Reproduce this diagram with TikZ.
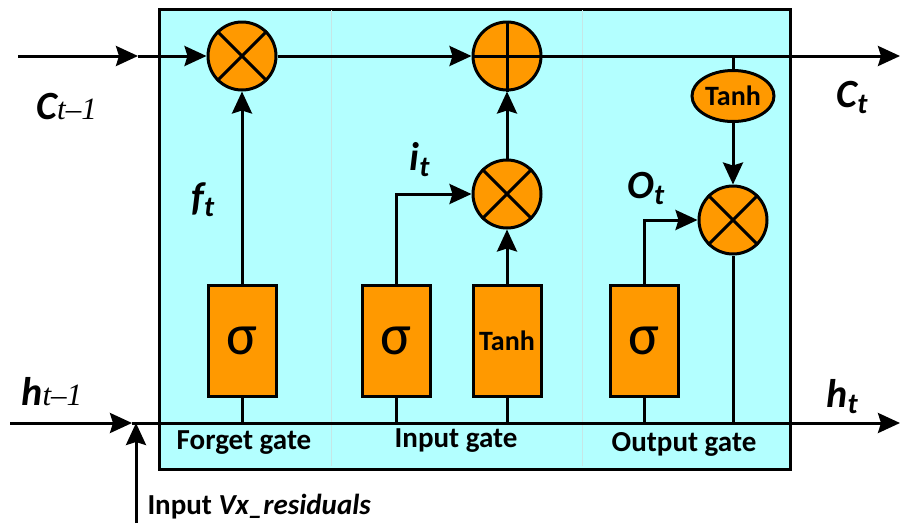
\documentclass[tikz,border=0pt]{standalone}
\usepackage{fontspec}
\setmainfont{Carlito}
\newfontfamily\serifit{Liberation Serif}
\usetikzlibrary{arrows.meta,shapes.geometric}
\definecolor{boxcyan}{HTML}{B3FFFF}
\definecolor{gateorange}{HTML}{FF9900}
\definecolor{divline}{HTML}{C6E6E6}
\tikzset{
  every picture/.style={line width=3pt},
  arr/.style={-{Stealth[length=22pt,width=20pt,inset=3pt]}},
  op/.style={circle,draw,fill=gateorange,minimum size=68pt,inner sep=0pt},
  gatebox/.style={rectangle,draw,fill=gateorange,minimum width=68pt,minimum height=111pt,inner sep=0pt},
  biglbl/.style={font=\fontsize{40}{42}\selectfont\bfseries\itshape,inner sep=0pt},
  gatelbl/.style={font=\fontsize{29}{32}\selectfont\bfseries,inner sep=0pt},
}
\newcommand{\subsc}[1]{{\fontsize{29}{30}\selectfont #1}}
\newcommand{\tmone}{{\fontsize{31}{32}\selectfont\serifit\itshape\mdseries t–1}}
\begin{document}
\begin{tikzpicture}[x=1pt,y=-1pt]
\useasboundingbox (0,0) rectangle (902,523);
% main cell
\node[draw,line width=3pt,fill=boxcyan,minimum width=631pt,minimum height=460pt,inner sep=0pt,anchor=north west] (cell) at (158,8) {};
\draw[divline,line width=1pt] (331,10) -- (331,466) (582,10) -- (582,466);
% coordinates
\coordinate (cin) at (18,56);
\coordinate (cmid) at (138,56);
\coordinate (cout) at (900,56);
\coordinate (hin) at (10,423);
\coordinate (hmid) at (132,423);
\coordinate (hout) at (900,423);
\coordinate (vin) at (136,523);
\coordinate (vtop) at (136,423);
% operators
\node[op] (fx) at (242,56) {};
\node[op] (plus) at (507,56) {};
\node[op] (ix) at (507,194) {};
\node[op] (ox) at (733,220) {};
\draw (fx.45) -- (fx.225) (fx.135) -- (fx.-45);
\draw (ix.45) -- (ix.225) (ix.135) -- (ix.-45);
\draw (ox.45) -- (ox.225) (ox.135) -- (ox.-45);
\draw (plus.north) -- (plus.south) (plus.west) -- (plus.east);
\node[ellipse,draw,fill=gateorange,minimum width=82pt,minimum height=51pt,inner sep=0pt,font=\fontsize{28}{30}\selectfont\bfseries] (tanhE) at (733,96) {Tanh};
% gate boxes
\node[gatebox,font=\fontsize{58}{60}\selectfont] (fs) at (242,340.5) {σ};
\node[gatebox,font=\fontsize{58}{60}\selectfont] (is) at (396,340.5) {σ};
\node[gatebox,font=\fontsize{28}{30}\selectfont\bfseries] (tb) at (507,340.5) {Tanh};
\node[gatebox,font=\fontsize{58}{60}\selectfont] (os) at (644,340.5) {σ};
% cell state line
\draw[arr] (cin) -- (cmid);
\draw[arr] (cmid) -- (fx.west);
\draw[arr] (fx.east) -- (plus.west);
\draw[arr] (plus.east) -- (cout);
% hidden line
\draw[arr] (hin) -- (hmid);
\draw[arr] (hmid) -- (hout);
\draw[arr] (vin) -- (vtop);
% gate connections
\draw (fs.south) -- (fs.south |- hin);
\draw (is.south) -- (is.south |- hin);
\draw (tb.south) -- (tb.south |- hin);
\draw (os.south) -- (os.south |- hin);
\draw[arr] (fs.north) -- (fx.south);
\draw[arr] (is.north) |- (ix.west);
\draw[arr] (tb.north) -- (ix.south);
\draw[arr] (ix.north) -- (plus.south);
\draw (tanhE.north) -- (tanhE.north |- cout);
\draw[arr] (tanhE.south) -- (ox.north);
\draw[arr] (os.north) |- (ox.west);
\draw (ox.south) -- (ox.south |- hin);
% labels
\node[biglbl,anchor=base west] (lc1) at (35,119) {C\tmone};
\node[biglbl,anchor=base west] (lct) at (835,107) {C\subsc{\raisebox{-6pt}{t}}};
\node[biglbl,anchor=base west] (lh1) at (20,405) {h\tmone};
\node[biglbl,anchor=base west] (lht) at (825,407) {h\subsc{\raisebox{-6pt}{t}}};
\node[biglbl,anchor=base west] (lft) at (190,210) {f\subsc{\raisebox{-6pt}{t}}};
\node[biglbl,anchor=base west] (lit) at (408,170) {i\subsc{\raisebox{-6pt}{t}}};
\node[biglbl,anchor=base west] (lot) at (626,198) {O\subsc{\raisebox{-6pt}{t}}};
\node[gatelbl] (gf) at (244,443) {Forget gate};
\node[gatelbl] (gi) at (456,441) {Input gate};
\node[gatelbl] (go) at (684,444) {Output gate};
\node[gatelbl,anchor=west] (vx) at (146,507) {Input \textit{Vx\_residuals}};
\end{tikzpicture}
\end{document}
